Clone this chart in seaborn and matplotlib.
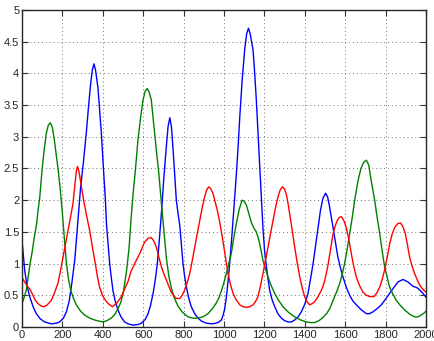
import pandas as pd
import matplotlib
matplotlib.use('Agg')
import matplotlib.pyplot as plt
import seaborn as sns

# Values (time, value).
blue_t = [0, 13, 25, 38, 55, 71, 90, 112, 145, 170, 186, 205, 220, 233, 244, 253, 261, 270, 277,
          290, 304, 318, 330, 340, 348, 356, 364, 376, 385, 393, 403, 413, 418, 425, 434, 442, 450,
          462, 475, 490, 508, 525, 550, 575, 591, 610, 624, 637, 649, 660, 670, 680, 690, 701, 712,
          723, 732, 740, 748, 756, 764, 772, 781, 789, 797, 805, 814, 825, 838, 855, 871, 890, 913,
          940, 960, 975, 987, 995, 1003, 1011, 1020, 1028, 1037, 1045, 1053, 1061, 1070, 1078, 1090,
          1102, 1112, 1121, 1130, 1144, 1152, 1160, 1168, 1177, 1184, 1193, 1201, 1210, 1218, 1226,
          1238, 1251, 1267, 1284, 1300, 1317, 1333, 1350, 1367, 1383, 1400, 1416, 1428, 1441, 1453,
          1465, 1478, 1490, 1503, 1513, 1523, 1534, 1545, 1555, 1564, 1576, 1589, 1605, 1622, 1638,
          1655, 1680, 1705, 1720, 1738, 1758, 1779, 1800, 1820, 1840, 1861, 1886, 1911, 1925, 1936,
          1948, 1960, 1973, 1985, 2000]
blue_v = [1.37, 0.90, 0.65, 0.48, 0.32, 0.21, 0.13, 0.08, 0.05, 0.06, 0.08, 0.14, 0.24, 0.40, 0.63,
          0.85, 1.05, 1.40, 1.68, 2.20, 2.60, 3.05, 3.50, 3.84, 4.05, 4.15, 4.05, 3.77, 3.40, 3.05,
          2.50, 2.00, 1.63, 1.35, 1.00, 0.78, 0.58, 0.40, 0.27, 0.16, 0.08, 0.05, 0.03, 0.04, 0.06,
          0.12, 0.21, 0.35, 0.53, 0.75, 1.00, 1.38, 1.79, 2.30, 2.75, 3.16, 3.30, 3.15, 2.79, 2.40,
          2.00, 1.80, 1.60, 1.30, 1.00, 0.80, 0.63, 0.46, 0.32, 0.21, 0.14, 0.09, 0.06, 0.05, 0.06,
          0.08, 0.11, 0.18, 0.28, 0.45, 0.72, 1.00, 1.35, 1.70, 2.05, 2.40, 2.85, 3.31, 3.90, 4.36,
          4.62, 4.71, 4.62, 4.36, 4.00, 3.58, 3.10, 2.53, 2.10, 1.55, 1.20, 0.95, 0.75, 0.58, 0.43,
          0.32, 0.21, 0.14, 0.10, 0.08, 0.08, 0.11, 0.16, 0.24, 0.36, 0.53, 0.75, 1.00, 1.27, 1.55,
          1.85, 2.03, 2.11, 2.05, 1.89, 1.68, 1.47, 1.28, 1.10, 0.94, 0.79, 0.63, 0.50, 0.41, 0.35,
          0.27, 0.21, 0.21, 0.24, 0.29, 0.35, 0.44, 0.53, 0.62, 0.71, 0.75, 0.71, 0.67, 0.64, 0.63,
          0.61, 0.57, 0.53, 0.47]

green_t = [0, 10, 21, 30, 40, 50, 60, 71, 80, 88, 100, 110, 120, 130, 140, 150, 160, 170, 180, 190,
           200, 210, 220, 230, 241, 255, 269, 290, 310, 335, 360, 385, 401, 420, 442, 460, 475, 488,
           500, 510, 520, 530, 541, 550, 562, 574, 587, 599, 610, 620, 630, 640, 652, 665, 678, 690,
           703, 715, 727, 739, 755, 772, 795, 822, 845, 871, 895, 921, 945, 962, 975, 990, 1003,
           1020, 1036, 1048, 1061, 1075, 1089, 1100, 1111, 1122, 1135, 1148, 1160, 1168, 1177, 1185,
           1193, 1205, 1218, 1234, 1251, 1270, 1292, 1320, 1350, 1380, 1408, 1430, 1449, 1470, 1490,
           1510, 1525, 1540, 1557, 1573, 1585, 1597, 1610, 1622, 1635, 1647, 1663, 1678, 1692, 1705,
           1717, 1729, 1746, 1758, 1771, 1783, 1795, 1808, 1820, 1836, 1853, 1873, 1894, 1920, 1944,
           1960, 1977, 1990, 2000]
green_v = [0.37, 0.46, 0.58, 0.78, 1.00, 1.18, 1.40, 1.60, 1.85, 2.05, 2.50, 2.80, 3.05, 3.18, 3.22,
           3.15, 2.95, 2.70, 2.45, 2.15, 1.79, 1.38, 1.00, 0.76, 0.58, 0.45, 0.35, 0.25, 0.19, 0.14,
           0.11, 0.09, 0.08, 0.10, 0.14, 0.20, 0.29, 0.38, 0.52, 0.72, 0.95, 1.25, 1.75, 2.10, 2.50,
           2.95, 3.30, 3.58, 3.72, 3.76, 3.70, 3.58, 3.20, 2.79, 2.40, 1.95, 1.50, 1.08, 0.80, 0.62,
           0.45, 0.33, 0.23, 0.16, 0.14, 0.14, 0.16, 0.21, 0.30, 0.38, 0.46, 0.60, 0.74, 0.95, 1.16,
           1.40, 1.63, 1.85, 2.00, 1.98, 1.92, 1.80, 1.65, 1.56, 1.50, 1.42, 1.31, 1.18, 1.05, 0.92,
           0.79, 0.65, 0.53, 0.42, 0.32, 0.23, 0.16, 0.11, 0.08, 0.07, 0.07, 0.10, 0.15, 0.22, 0.30,
           0.42, 0.55, 0.69, 0.83, 1.00, 1.23, 1.47, 1.73, 2.00, 2.30, 2.50, 2.60, 2.63, 2.55, 2.30,
           2.00, 1.73, 1.47, 1.20, 0.95, 0.78, 0.63, 0.52, 0.42, 0.34, 0.27, 0.20, 0.16, 0.16, 0.19,
           0.22, 0.25]

red_t = [0, 15, 30, 42, 54, 66, 79, 95, 109, 125, 145, 162, 178, 190, 203, 215, 228, 240, 252, 262,
         270, 275, 282, 292, 305, 320, 335, 349, 363, 373, 384, 398, 413, 430, 448, 470, 492, 508,
         525, 540, 558, 583, 607, 625, 640, 652, 665, 678, 690, 702, 715, 727, 739, 752, 764, 781,
         793, 805, 818, 830, 843, 855, 868, 880, 892, 904, 914, 924, 935, 946, 958, 970, 983, 995,
         1008, 1020, 1033, 1045, 1060, 1078, 1095, 1111, 1128, 1144, 1156, 1168, 1180, 1193, 1205,
         1218, 1230, 1243, 1255, 1267, 1278, 1289, 1299, 1308, 1317, 1325, 1338, 1350, 1362, 1375,
         1387, 1399, 1411, 1424, 1437, 1449, 1462, 1474, 1485, 1495, 1505, 1515, 1528, 1540, 1551,
         1561, 1571, 1581, 1593, 1606, 1618, 1630, 1642, 1655, 1670, 1688, 1705, 1721, 1743, 1757,
         1771, 1783, 1795, 1808, 1820, 1833, 1845, 1860, 1874, 1886, 1898, 1908, 1919, 1931, 1944,
         1957, 1969, 1983, 2000]
red_v = [0.78, 0.70, 0.63, 0.58, 0.50, 0.42, 0.37, 0.33, 0.32, 0.35, 0.42, 0.55, 0.69, 0.88, 1.10,
         1.30, 1.52, 1.73, 1.94, 2.25, 2.48, 2.53, 2.45, 2.25, 2.00, 1.75, 1.52, 1.25, 1.00, 0.80,
         0.63, 0.50, 0.42, 0.36, 0.32, 0.38, 0.48, 0.60, 0.72, 0.88, 1.00, 1.16, 1.34, 1.40, 1.41,
         1.36, 1.26, 1.10, 0.95, 0.84, 0.74, 0.64, 0.55, 0.49, 0.45, 0.45, 0.50, 0.58, 0.70, 0.84,
         1.05, 1.26, 1.48, 1.68, 1.88, 2.05, 2.16, 2.21, 2.18, 2.10, 1.95, 1.80, 1.58, 1.35, 1.08,
         0.84, 0.66, 0.53, 0.43, 0.35, 0.32, 0.31, 0.32, 0.35, 0.40, 0.48, 0.64, 0.84, 1.05, 1.26,
         1.47, 1.68, 1.88, 2.05, 2.16, 2.21, 2.18, 2.10, 1.95, 1.79, 1.52, 1.26, 1.02, 0.79, 0.62,
         0.48, 0.40, 0.35, 0.37, 0.40, 0.46, 0.53, 0.60, 0.69, 0.82, 0.98, 1.24, 1.47, 1.60, 1.68,
         1.73, 1.74, 1.68, 1.56, 1.38, 1.16, 0.96, 0.79, 0.66, 0.55, 0.50, 0.48, 0.48, 0.54, 0.63,
         0.75, 0.90, 1.10, 1.31, 1.47, 1.57, 1.63, 1.64, 1.58, 1.47, 1.30, 1.10, 0.96, 0.84, 0.74,
         0.66, 0.60, 0.55]

df = pd.concat([
    pd.DataFrame({'t': blue_t, 'v': blue_v, 'series': 'blue'}),
    pd.DataFrame({'t': green_t, 'v': green_v, 'series': 'green'}),
    pd.DataFrame({'t': red_t, 'v': red_v, 'series': 'red'}),
])

sns.set_style('ticks')
plt.rcParams['font.family'] = ['Liberation Sans', 'DejaVu Sans']

fig = plt.figure(figsize=(4.35, 3.41), dpi=100)
ax = fig.add_axes([0.0506, 0.041, 0.9287, 0.930])

sns.lineplot(data=df, x='t', y='v', hue='series', estimator=None,
             palette={'blue': '#0000ff', 'green': '#008000', 'red': '#ff0000'},
             linewidth=1.0, legend=False, ax=ax)

ax.set_xlim(0, 2000)
ax.set_ylim(0, 5)
ax.set_xticks(range(0, 2001, 200))
ax.set_yticks([0, 0.5, 1, 1.5, 2, 2.5, 3, 3.5, 4, 4.5, 5])
ax.set_yticklabels(['0', '0.5', '1', '1.5', '2', '2.5', '3', '3.5', '4', '4.5', '5'])
ax.set_xlabel('')
ax.set_ylabel('')

ax.grid(True, linestyle=(0, (1, 3)), color='0.45', linewidth=0.7)
ax.tick_params(direction='in', top=True, right=True, length=4, width=0.8,
               labelsize=8, pad=2, color='0.2')
for s in ax.spines.values():
    s.set_visible(True)
    s.set_linewidth(1.0)
    s.set_color('0.15')

fig.savefig('out.png', dpi=100)
